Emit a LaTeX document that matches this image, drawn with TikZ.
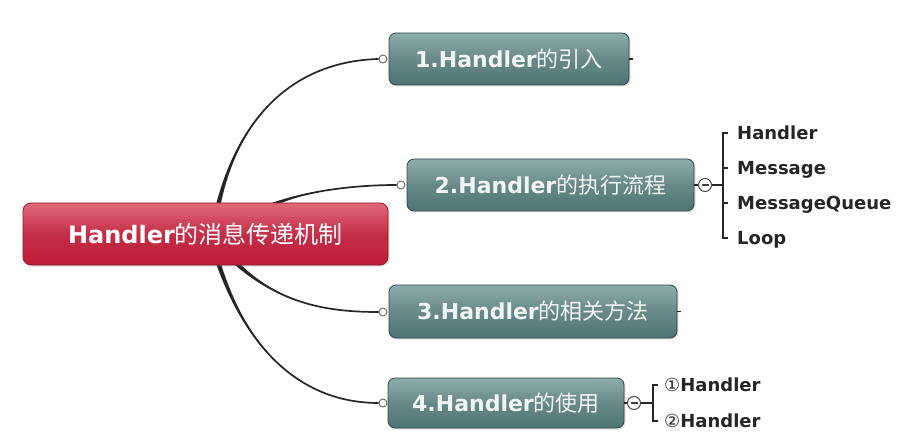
\documentclass[tikz,border=0pt]{standalone}
\usepackage{fontspec}
\setmainfont{DejaVu Sans}
\newfontfamily\cjk{Noto Sans CJK SC}
\usetikzlibrary{positioning,calc,backgrounds,shadows}
\definecolor{hroot}{RGB}{190,28,56}
\definecolor{hroottop}{RGB}{224,104,124}
\definecolor{hrootline}{RGB}{150,22,42}
\definecolor{hteal}{RGB}{78,116,116}
\definecolor{htealtop}{RGB}{142,172,172}
\definecolor{htealline}{RGB}{48,70,70}
\definecolor{hlink}{RGB}{38,38,38}
\newcommand{\zh}[1]{{\cjk\mdseries #1}}
% tapered branch: start, control 1, control 2, end, half width at the start
\newcommand{\branch}[5]{%
  \fill[hlink] ($(#1)+(#5)$) .. controls (#2) and (#3) .. (#4)
    .. controls (#3) and (#2) .. ($(#1)-(#5)$) -- cycle;
  \draw[branchline] (#1) .. controls (#2) and (#3) .. (#4);}

\begin{document}
\begin{tikzpicture}[
  x=1pt, y=-1pt,
  rootbox/.style={rectangle, rounded corners=8pt, draw=hrootline, line width=0.8pt,
    top color=hroottop, bottom color=hroot, middle color=hroot!92!white,
    minimum width=365pt, minimum height=62pt, text=white,
    font=\fontsize{24}{28}\selectfont\bfseries,
    drop shadow={opacity=0.25, shadow xshift=1.5pt, shadow yshift=-1.5pt}},
  topic/.style={rectangle, rounded corners=7pt, draw=htealline, line width=0.8pt,
    top color=htealtop, bottom color=hteal, middle color=hteal!85!white,
    minimum height=52pt, text=white!92!hteal,
    font=\fontsize{22}{26}\selectfont\bfseries,
    drop shadow={opacity=0.25, shadow xshift=1.5pt, shadow yshift=-1.5pt}},
  leaf/.style={anchor=west, inner sep=0pt, text height=13pt, text depth=0pt,
    font=\fontsize{18}{20}\selectfont\bfseries, text=black!85},
  knob/.style={circle, draw=hlink!70, fill=white, inner sep=0pt,
    minimum size=8pt, line width=0.9pt},
  fold/.style={circle, draw=gray!60!black, fill=white, inner sep=0pt,
    minimum size=13pt, line width=1pt,
    path picture={\draw[line width=1.4pt, gray!50!black]
      ([xshift=-3.5pt]path picture bounding box.center) --
      ([xshift=3.5pt]path picture bounding box.center);}},
  link/.style={draw=hlink, line width=1.1pt},
  branchline/.style={draw=hlink, line width=1.7pt}
]
\useasboundingbox (0,0) rectangle (914,433);

% central topic
\node[rootbox] (root) at (205.5,234) {Handler\zh{的消息传递机制}};

% main topics
\node[topic, minimum width=240pt] (t1) at (509,59) {1.Handler\zh{的引入}};
\node[topic, minimum width=287pt] (t2) at (550.5,185) {2.Handler\zh{的执行流程}};
\node[topic, minimum width=288pt, minimum height=53pt] (t3) at (533,311.5) {3.Handler\zh{的相关方法}};
\node[topic, minimum width=236pt, minimum height=50pt] (t4) at (506,403) {4.Handler\zh{的使用}};

% knobs on the left of the topics
\node[knob] (k1) at (383,59) {};
\node[knob] (k2) at (401,185) {};
\node[knob] (k3) at (383,312) {};
\node[knob] (k4) at (383,403) {};

% where the branches leave the central topic
\coordinate (r1) at (218,206);
\coordinate (r2) at (270,206);
\coordinate (r3) at (235,262);
\coordinate (r4) at (218,262);

\begin{scope}[on background layer]
  \branch{r1}{240,110}{300,61}{k1.west}{2.2,0.5}
  \branch{r2}{300,192}{350,185}{k2.west}{0.8,2}
  \branch{r3}{280,305}{330,312}{k3.west}{1.5,-1.6}
  \branch{r4}{250,360}{310,403}{k4.west}{2.2,-0.8}
\end{scope}

% stubs on the right
\coordinate (e1) at ([xshift=4pt]t1.east);
\coordinate (e3) at ([xshift=4pt]t3.east);
\draw[link] (t1.east) -- (e1);
\draw[link] (t3.east) -- (e3);

% sub topics of 2
\node[fold] (f2) at (705,185) {};
\coordinate (b2) at (723,185);
\node[leaf] (c21) at (737,133) {Handler};
\node[leaf] (c22) at (737,168) {Message};
\node[leaf] (c23) at (737,203) {MessageQueue};
\node[leaf] (c24) at (737,238) {Loop};
\draw[link] (t2.east) -- (f2.west);
\draw[link, line width=2.4pt] (f2.east) -- (b2);
\draw[link] ([xshift=-9pt]c21.west) -| (b2) |- ([xshift=-9pt]c24.west);
\draw[link] (b2 |- c22.west) -- ([xshift=-9pt]c22.west);
\draw[link] (b2 |- c23.west) -- ([xshift=-9pt]c23.west);

% sub topics of 4
\node[fold] (f4) at (634,403) {};
\coordinate (b4) at (653,403);
\node[leaf] (c41) at (664,385) {{\mdseries ①}Handler};
\node[leaf] (c42) at (664,421) {{\mdseries ②}Handler};
\draw[link] (t4.east) -- (f4.west);
\draw[link, line width=2.4pt] (f4.east) -- (b4);
\draw[link] ([xshift=-6pt]c41.west) -| (b4) |- ([xshift=-6pt]c42.west);

\end{tikzpicture}
\end{document}
